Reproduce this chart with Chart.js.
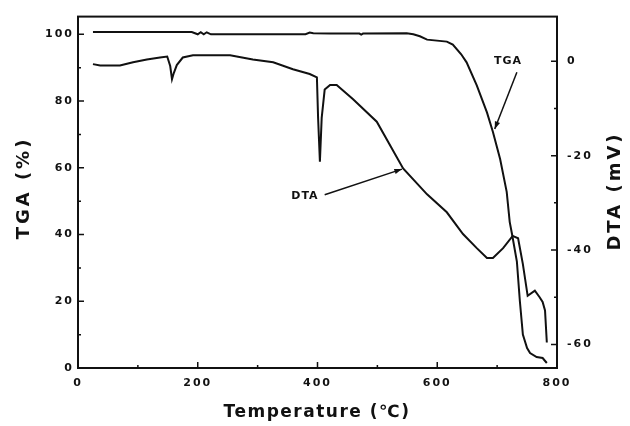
<!DOCTYPE html>
<html>
<head>
<meta charset="utf-8">
<script src="https://cdn.jsdelivr.net/npm/chart.js@4.4.0/dist/chart.umd.min.js"></script>
<style>
html,body{margin:0;padding:0;background:#fff;}
</style>
</head>
<body>
<canvas id="myChart" width="630" height="426"></canvas>
<script>
// TGA (%) against temperature, left axis
var tgaTemp = [25, 100, 190, 200, 205, 210, 215, 222, 300, 380, 387, 393, 421, 470, 473, 476, 549, 560, 571, 583, 616, 626, 640, 649, 666, 683, 693, 705, 716, 721, 725, 733, 738, 743, 750, 755, 766, 776, 783];
var tgaVal  = [100.7, 100.7, 100.7, 100.0, 100.6, 100.0, 100.6, 100.0, 100.0, 100.0, 100.5, 100.3, 100.2, 100.2, 99.9, 100.2, 100.3, 100.0, 99.4, 98.4, 97.8, 96.9, 94.0, 91.6, 84.7, 76.6, 70.7, 62.6, 52.8, 43.8, 40.0, 31.9, 20.0, 10.0, 6.0, 4.5, 3.3, 3.0, 1.5];

// DTA (mV) against temperature, right axis
var dtaTemp = [25, 37, 70, 92, 115, 137, 149, 154, 157, 160, 165, 175, 192, 254, 292, 326, 359, 387, 399, 401, 404, 407, 412, 421, 432, 459, 499, 543, 583, 616, 643, 666, 683, 693, 710, 726, 735, 743, 751, 763, 771, 776, 780, 783];
var dtaVal  = [-0.6, -0.9, -0.9, -0.2, 0.4, 0.8, 1.0, -1.0, -3.8, -2.5, -0.8, 0.8, 1.3, 1.3, 0.4, -0.2, -1.7, -2.7, -3.4, -12.0, -21.3, -12.0, -6.0, -5.0, -5.0, -8.0, -12.8, -22.7, -28.2, -32.0, -36.6, -39.6, -41.7, -41.7, -39.6, -37.0, -37.5, -43.0, -49.7, -48.6, -50.0, -51.0, -52.8, -59.6];

// tick labels
var xTicks = [0, 200, 400, 600, 800];
var tgaTicks = [0, 20, 40, 60, 80, 100];
var dtaTicks = [-60, -40, -20, 0];

// callouts, in data units (temperature, TGA %)
var callouts = [
  {text: 'TGA', tx: 718, ty: 91.9, from: [733, 88.6], to: [696, 71.6]},
  {text: 'DTA', tx: 379, ty: 51.6, from: [412, 51.9], to: [541, 59.6]}
];

function pairs(xs, ys) {
  return xs.map(function (x, i) { return {x: x, y: ys[i]}; });
}
function minors(list) {
  var out = [];
  for (var i = 0; i < list.length - 1; i++) out.push((list[i] + list[i + 1]) / 2);
  return out;
}
function fixTicks(list) {
  return function (scale) { scale.ticks = list.map(function (v) { return {value: v}; }); };
}

var tickFont = {family: 'DejaVu Sans', size: 11, weight: 'bold'};
var ink = '#111';

function vTitle(ctx, text, x, y) {
  ctx.save();
  ctx.translate(x, y); ctx.rotate(-Math.PI / 2);
  ctx.fillText(text, 0, 0);
  ctx.restore();
}

var framePlugin = {
  id: 'frame',
  beforeDraw: function (chart) {
    chart.ctx.letterSpacing = '2px';
  },
  afterDraw: function (chart) {
    var ctx = chart.ctx, a = chart.chartArea;
    var sx = chart.scales.x, sl = chart.scales.yTga, sr = chart.scales.yDta;
    ctx.save();
    ctx.strokeStyle = ink;
    ctx.lineWidth = 2;
    ctx.strokeRect(a.left, a.top, a.right - a.left, a.bottom - a.top);

    ctx.lineWidth = 1.5;
    ctx.beginPath();
    xTicks.forEach(function (v) { var p = sx.getPixelForValue(v); ctx.moveTo(p, a.bottom); ctx.lineTo(p, a.bottom - 6); });
    minors(xTicks).forEach(function (v) { var p = sx.getPixelForValue(v); ctx.moveTo(p, a.bottom); ctx.lineTo(p, a.bottom - 3); });
    tgaTicks.forEach(function (v) { var p = sl.getPixelForValue(v); ctx.moveTo(a.left, p); ctx.lineTo(a.left + 6, p); });
    minors(tgaTicks).forEach(function (v) { var p = sl.getPixelForValue(v); ctx.moveTo(a.left, p); ctx.lineTo(a.left + 3, p); });
    dtaTicks.forEach(function (v) { var p = sr.getPixelForValue(v); ctx.moveTo(a.right, p); ctx.lineTo(a.right - 6, p); });
    minors(dtaTicks).forEach(function (v) { var p = sr.getPixelForValue(v); ctx.moveTo(a.right, p); ctx.lineTo(a.right - 3, p); });
    ctx.stroke();

    // callouts with arrows
    ctx.fillStyle = ink;
    ctx.letterSpacing = '1px';
    ctx.font = 'bold 11px "DejaVu Sans"';
    ctx.textAlign = 'center';
    ctx.textBaseline = 'middle';
    callouts.forEach(function (c) {
      ctx.fillText(c.text, sx.getPixelForValue(c.tx), sl.getPixelForValue(c.ty));
      var x1 = sx.getPixelForValue(c.from[0]), y1 = sl.getPixelForValue(c.from[1]);
      var x2 = sx.getPixelForValue(c.to[0]), y2 = sl.getPixelForValue(c.to[1]);
      ctx.lineWidth = 1.5;
      ctx.beginPath(); ctx.moveTo(x1, y1); ctx.lineTo(x2, y2); ctx.stroke();
      var ang = Math.atan2(y2 - y1, x2 - x1);
      ctx.beginPath();
      ctx.moveTo(x2, y2);
      ctx.lineTo(x2 - 8 * Math.cos(ang - 0.35), y2 - 8 * Math.sin(ang - 0.35));
      ctx.lineTo(x2 - 8 * Math.cos(ang + 0.35), y2 - 8 * Math.sin(ang + 0.35));
      ctx.closePath(); ctx.fill();
    });

    // axis titles
    ctx.font = 'bold 17px "DejaVu Sans"';
    ctx.letterSpacing = '1.5px';
    ctx.fillText('Temperature (\u2103)', 317, 413);
    ctx.font = 'bold 18px "DejaVu Sans"';
    ctx.letterSpacing = '3px';
    vTitle(ctx, 'TGA (%)', 24, 188);
    vTitle(ctx, 'DTA (mV)', 615, 191);
    ctx.restore();
  }
};

var ctx = document.getElementById('myChart').getContext('2d');
var myChart = new Chart(ctx, {
  type: 'line',
  data: {
    datasets: [{
      label: 'TGA',
      data: pairs(tgaTemp, tgaVal),
      yAxisID: 'yTga',
      borderColor: ink,
      borderWidth: 2,
      pointRadius: 0,
      fill: false
    }, {
      label: 'DTA',
      data: pairs(dtaTemp, dtaVal),
      yAxisID: 'yDta',
      borderColor: ink,
      borderWidth: 2,
      pointRadius: 0,
      fill: false
    }]
  },
  options: {
    responsive: false,
    animation: false,
    layout: {padding: {top: 14, left: 0, right: 0, bottom: 0}},
    plugins: {legend: {display: false}, tooltip: {enabled: false}},
    scales: {
      x: {
        type: 'linear', min: 0, max: 800,
        afterBuildTicks: fixTicks(xTicks),
        afterFit: function (s) { s.height = 58; },
        grid: {display: false, drawTicks: false},
        border: {display: false},
        ticks: {font: tickFont, color: ink, padding: 9, maxRotation: 0}
      },
      yTga: {
        type: 'linear', position: 'left', min: 0, max: 105.3,
        afterBuildTicks: fixTicks(tgaTicks),
        afterFit: function (s) { s.width = 78; },
        grid: {display: false, drawTicks: false},
        border: {display: false},
        ticks: {font: tickFont, color: ink, padding: 4}
      },
      yDta: {
        type: 'linear', position: 'right', min: -65, max: 9.47,
        afterBuildTicks: fixTicks(dtaTicks),
        afterFit: function (s) { s.width = 73; },
        grid: {display: false, drawTicks: false},
        border: {display: false},
        ticks: {font: tickFont, color: ink, padding: 10}
      }
    }
  },
  plugins: [framePlugin]
});
</script>
</body>
</html>
